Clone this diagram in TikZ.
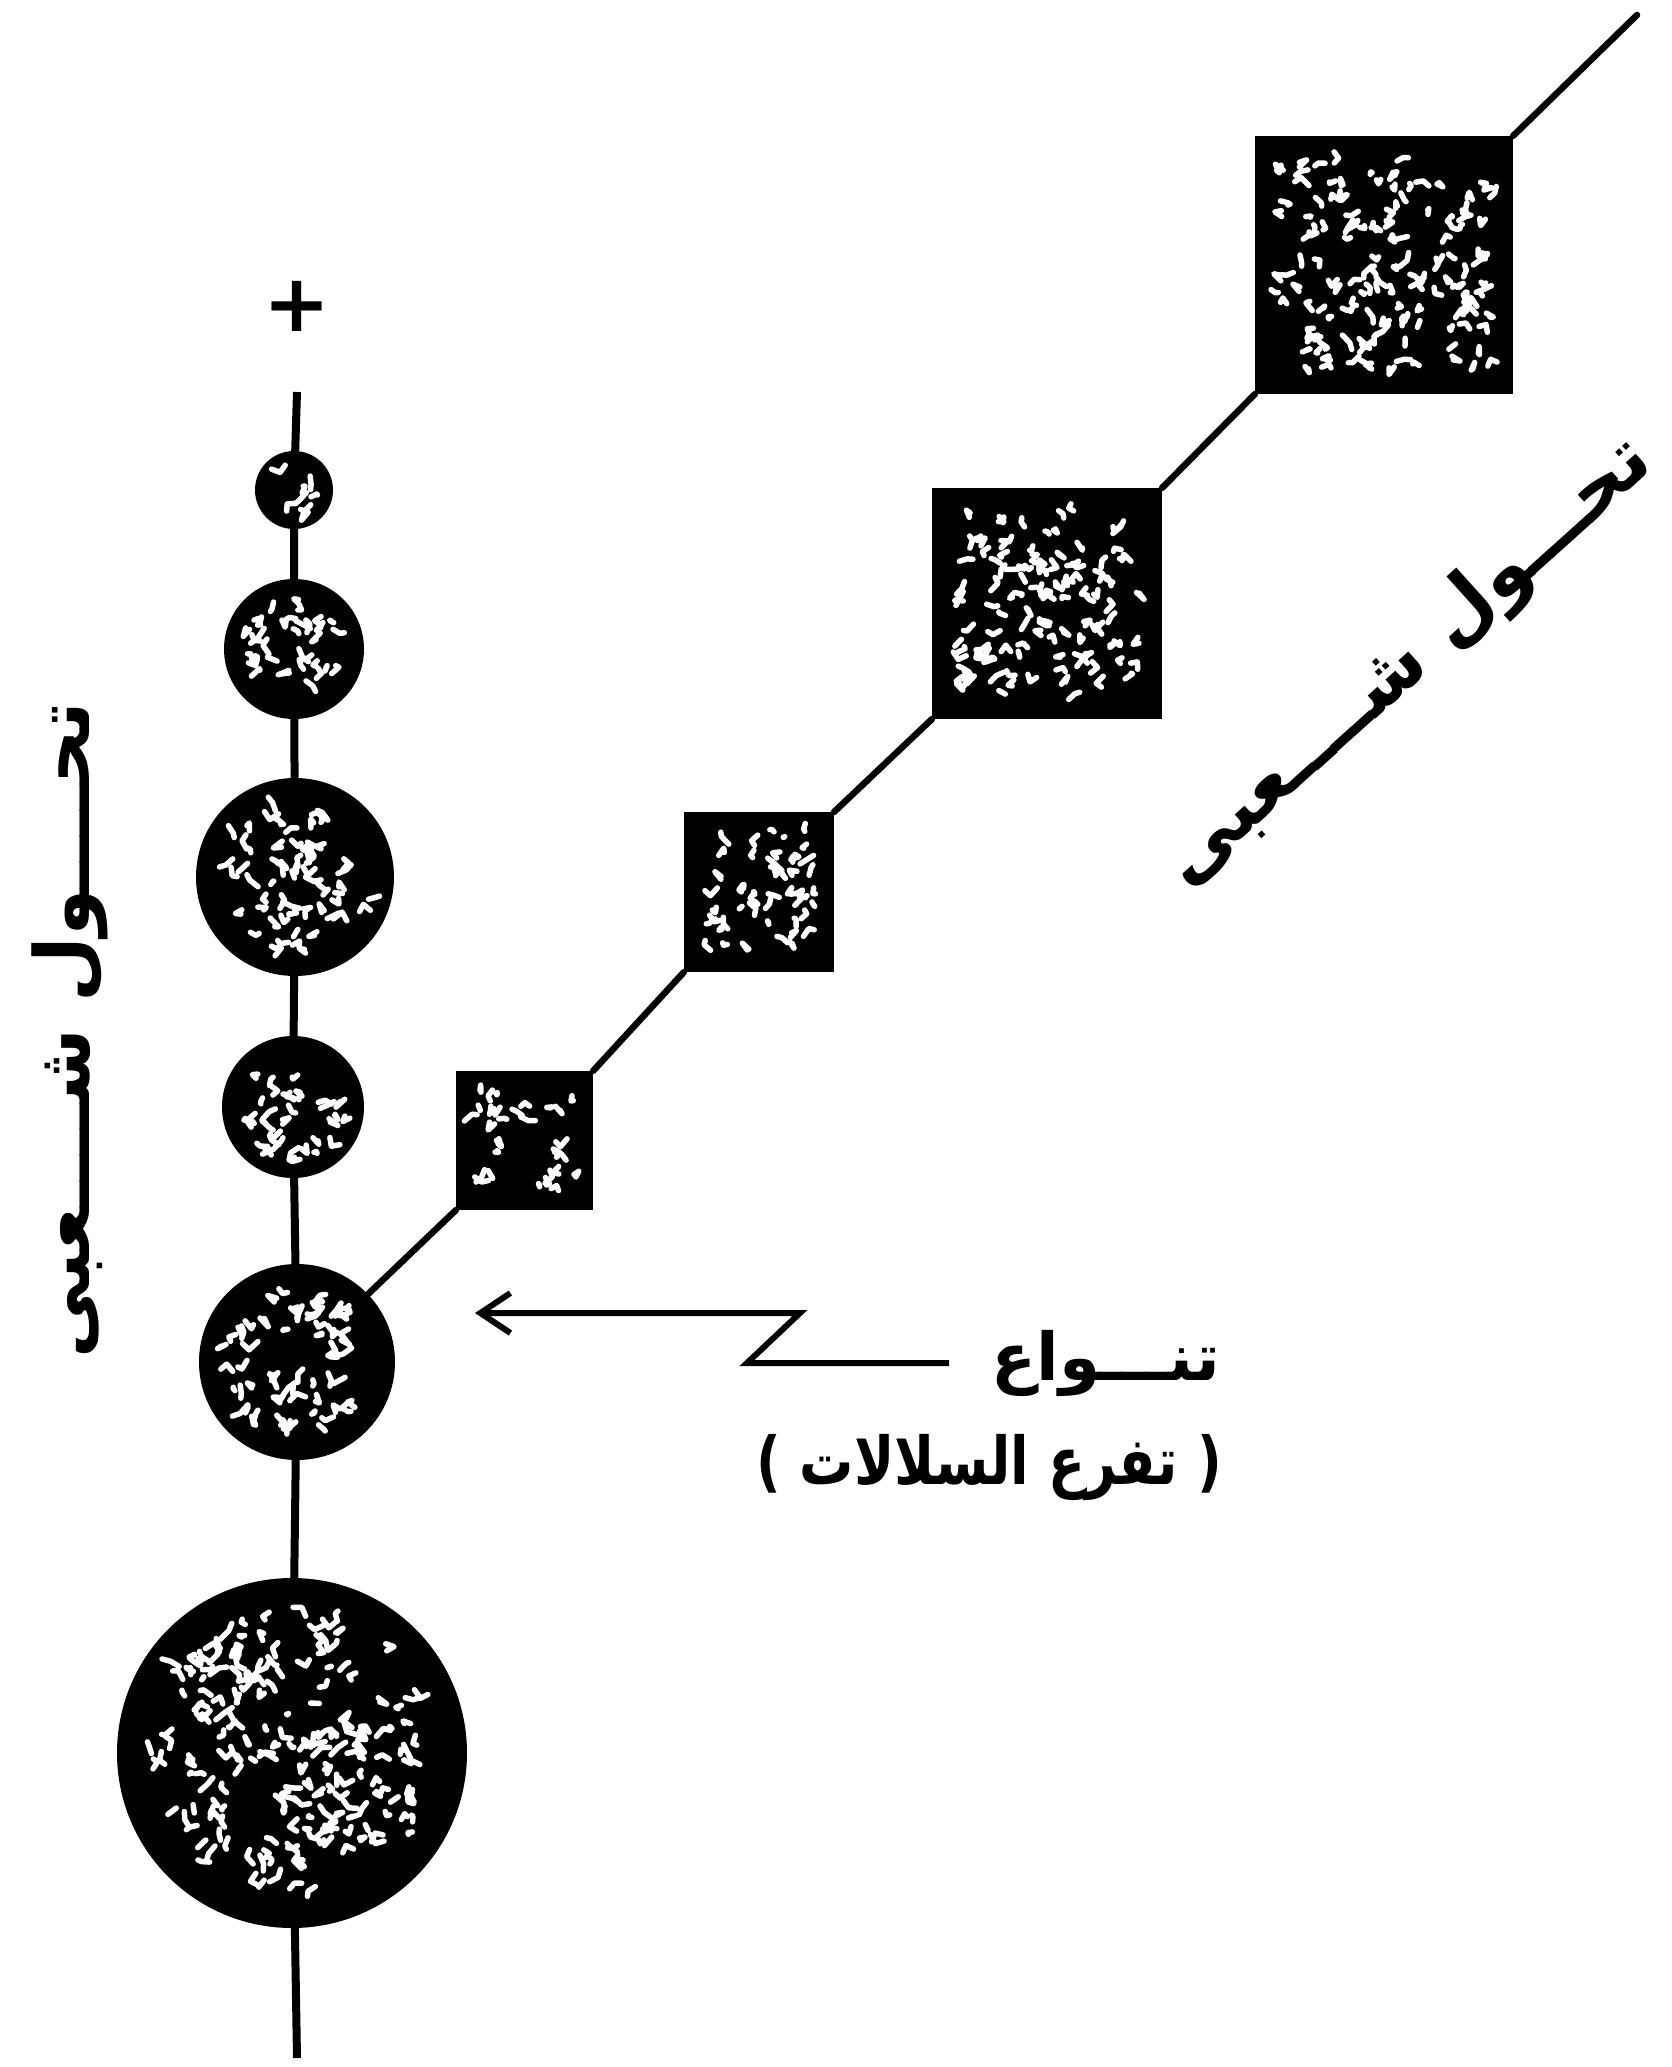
\documentclass[tikz,border=0pt]{standalone}
\usepackage{fontspec}
\usetikzlibrary{arrows.meta,calc}
\TeXXeTstate=1
\newfontfamily\arabicfont[Script=Arabic]{DejaVu Sans}
\newfontfamily\plusfont{DejaVu Sans}

\newcommand\speckcirc[2]{%
  \foreach \k in {1,...,#1}{%
    \pgfmathsetmacro\sa{rand*180}%
    \pgfmathsetmacro\sd{#2*sqrt(rnd)}%
    \draw[speckline] ($(path picture bounding box.center)+(\sa:\sd)$) -- ++(rand*9,rand*9) -- ++(rand*9,rand*9);
  }}
\newcommand\specksq[3]{%
  \foreach \k in {1,...,#1}{%
    \pgfmathsetmacro\sx{rand*#2}%
    \pgfmathsetmacro\sy{rand*#3}%
    \draw[speckline] ($(path picture bounding box.center)+(\sx,\sy)$) -- ++(rand*8,rand*8) -- ++(rand*8,rand*8);
  }}

\tikzset{
  bead/.style={circle, fill=black, inner sep=0pt, outer sep=0pt, minimum size=#1},
  box/.style 2 args={rectangle, fill=black, inner sep=0pt, outer sep=0pt, minimum width=#1, minimum height=#2},
  speckline/.style={white, line width=5.5pt, line cap=round, line join=round},
  axisline/.style={line width=8pt},
  link/.style={line width=6.5pt, line cap=round},
  pointer/.style={line width=6pt, line join=miter, -{Straight Barb[length=30pt,width=40pt]}},
  arlabel/.style={font=\arabicfont\bfseries\fontsize{76}{90}\selectfont, inner sep=0pt},
  botlabel/.style={font=\arabicfont\bfseries\fontsize{66}{78}\selectfont, inner sep=0pt, anchor=base east},
}

\begin{document}
\begin{tikzpicture}[x=1pt,y=-1pt]
\useasboundingbox (0,0) rectangle (1672,2067);
\pgfmathsetseed{7}

% plus sign and vertical axis
\node[font=\plusfont\bfseries\fontsize{80}{80}\selectfont, inner sep=0pt] (plus) at (297,306) {+};
\coordinate (axtop) at (297,392);
\coordinate (axbot) at (297,2058);

% beads on the vertical axis
\node[bead=78pt,  path picture={\speckcirc{8}{27}}]   (c1) at (294,490) {};
\node[bead=140pt, path picture={\speckcirc{34}{52}}]  (c2) at (294,649) {};
\node[bead=198pt, path picture={\speckcirc{66}{78}}]  (c3) at (295,877) {};
\node[bead=142pt, path picture={\speckcirc{34}{53}}]  (c4) at (293,1107) {};
\node[bead=196pt, path picture={\speckcirc{66}{77}}]  (c5) at (297,1362) {};
\node[bead=350pt, path picture={\speckcirc{200}{143}}] (c6) at (292,1753) {};

\draw[axisline] (axtop) -- (c1) -- (c2) -- (c3) -- (c4) -- (c5) -- (c6) -- (axbot);

% squares on the diagonal
\node[box={137pt}{139pt}, path picture={\specksq{30}{50}{51}}] (s1) at (524.5,1140.5) {};
\node[box={150pt}{160pt}, path picture={\specksq{50}{56}{61}}] (s2) at (759,892) {};
\node[box={230pt}{231pt}, path picture={\specksq{120}{93}{93}}] (s3) at (1047,603.5) {};
\node[box={258pt}{258pt}, path picture={\specksq{150}{106}{106}}] (s4) at (1384,265) {};
\coordinate (diagend) at (1637,15);

\draw[link] (c5) -- (s1.south west);
\draw[link] (s1.north east) -- (s2.south west);
\draw[link] (s2.north east) -- (s3.south west);
\draw[link] (s3.north east) -- (s4.south west);
\draw[link] (s4.north east) -- (diagend);

% labels
\node[arlabel, rotate=90] (vL) at (70,1030) {\beginR تحــــول شــــعبى\endR};
\node[arlabel, rotate=42] (vR) at (1408,663) {\beginR تحـــول شــــعبى\endR};
\node[botlabel] (lblA) at (1220,1380) {\beginR تنـــواع\endR};
\node[botlabel] (lblB) at (1222,1484) {\scalebox{0.82}[1]{{\plusfont (} \beginR تفرع السلالات\endR{} {\plusfont )}}};

% pointer
\coordinate (tip) at (475,1313);
\coordinate (zA) at (800,1313);
\coordinate (zB) at (747,1363);
\coordinate (zC) at ($(lblA.base west)+(-42,-17)$);
\draw[pointer] (zC) -- (zB) -- (zA) -- (tip);
\end{tikzpicture}
\end{document}
